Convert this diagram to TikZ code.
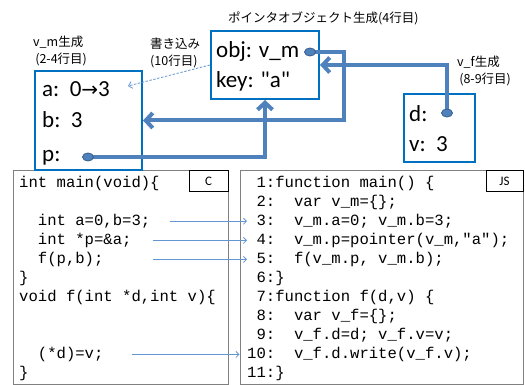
\documentclass[tikz,border=0pt]{standalone}
\usepackage{fontspec}
\setmainfont{Carlito}[Ligatures=TeXOff]
\setmonofont{Liberation Mono}
\newfontfamily\jpfont{Noto Sans CJK JP}
\newfontfamily\symfont{DejaVu Sans}
\usepackage{xcolor}
\usetikzlibrary{arrows.meta,shapes.geometric}

\definecolor{boxblue}{RGB}{0,112,192}
\definecolor{linkblue}{RGB}{79,129,189}
\definecolor{dotedge}{RGB}{56,93,138}
\definecolor{thinblue}{RGB}{100,150,210}
\definecolor{codegray}{RGB}{128,128,128}

\begin{document}
\begin{tikzpicture}[x=1pt, y=-1pt,
    membox/.style={draw=boxblue, line width=2pt, inner sep=0pt},
    memtext/.style={anchor=base west, inner sep=0pt, font=\fontsize{23}{27}\selectfont},
    note/.style={anchor=west, align=left, inner sep=0pt, font=\jpfont\fontsize{12.5}{17}\selectfont},
    link/.style={draw=linkblue, line width=4pt, -{Straight Barb[length=7pt,width=15pt]}},
    dot/.style={ellipse, fill=linkblue, draw=dotedge, line width=0.8pt, minimum width=11pt, minimum height=8pt, inner sep=0pt},
    codebox/.style={draw=codegray, line width=1pt, inner sep=0pt},
    tagbox/.style={draw=black, fill=white, line width=1pt, inner sep=0pt, font=\fontsize{13}{15}\selectfont},
    codeline/.style={anchor=base west, inner sep=0pt, font=\ttfamily\fontsize{15.6}{18}\selectfont},
    codelink/.style={draw=thinblue, line width=0.8pt, -{Straight Barb[length=3pt,width=6pt]}},
    dashlink/.style={draw=thinblue, line width=0.8pt, dash pattern=on 2.5pt off 1.5pt, -{Straight Barb[length=3.5pt,width=7pt]}}]
    \useasboundingbox (0,0) rectangle (525,385);

    % Code panels
    \node[codebox, minimum width=215pt, minimum height=213pt] (cbox) at (120.5,277.5) {};
    \node[codebox, minimum width=283pt, minimum height=213pt] (jsbox) at (381.5,277.5) {};
    \node[tagbox, minimum width=39pt, minimum height=21pt] (ctag) at (208.5,181.5) {C};
    \node[tagbox, minimum width=37pt, minimum height=21pt] (jstag) at (504.5,181.5) {JS};

    % C code
    \foreach \n/\code in {1/{int main(void)\{}, 3/{\ \ int a=0,b=3;}, 4/{\ \ int *p=\&a;},
        5/{\ \ f(p,b);}, 6/{\}}, 7/{void f(int *d,int v)\{}, 10/{\ \ (*d)=v;}, 11/{\}}}
        \node[codeline] (c\n) at (19,168.5+19*\n) {\code};

    % JS code
    \foreach \n/\code in {1/{\phantom{0}1:function main() \{}, 2/{\phantom{0}2:\ \ var v\_m=\{\};},
        3/{\phantom{0}3:\ \ v\_m.a=0; v\_m.b=3;}, 4/{\phantom{0}4:\ \ v\_m.p=pointer(v\_m,"a");},
        5/{\phantom{0}5:\ \ f(v\_m.p, v\_m.b);}, 6/{\phantom{0}6:\}}, 7/{\phantom{0}7:function f(d,v) \{},
        8/{\phantom{0}8:\ \ var v\_f=\{\};}, 9/{\phantom{0}9:\ \ v\_f.d=d; v\_f.v=v;},
        10/{10:\ \ v\_f.d.write(v\_f.v);}, 11/{11:\}}}
        \node[codeline] (js\n) at (247,168.5+19*\n) {\code};

    % C line -> JS line
    \draw[codelink] ([xshift=20pt]c3.east) -- (c3.east -| js3.west);
    \draw[codelink] ([xshift=21pt]c4.east) -- (c4.east -| js4.west);
    \draw[codelink] ([xshift=49pt]c5.east) -- (c5.east -| js5.west);
    \draw[codelink] ([xshift=28pt]c10.east) -- (c10.east -| jsbox.west);

    % v_m object
    \node[membox, minimum width=107pt, minimum height=99pt] (vmbox) at (88.5,120.5) {};
    \node[memtext] (vma) at (42,97) {a:\ \ 0{\symfont\fontsize{20}{24}\selectfont →}3};
    \node[memtext] (vmb) at (42,128) {b:\ \ 3};
    \node[memtext] (vmp) at (42,161) {p:};
    \node[note] (vmnote) at (33,51) {v\_m生成\\\,(2-4行目)};

    % pointer object
    \node[membox, minimum width=108pt, minimum height=68pt] (pbox) at (265,65) {};
    \node[memtext] (pobj) at (216,58) {obj: v\_m};
    \node[memtext] (pkey) at (216,88) {key: "a"};
    \node[note] (pnote) at (228,18) {ポインタオブジェクト生成(4行目)};

    % v_f object
    \node[membox, minimum width=71pt, minimum height=68pt] (vfbox) at (439.5,128) {};
    \node[memtext] (vfd) at (409,122) {d:};
    \node[memtext] (vfv) at (409,152) {v:\ \ 3};
    \node[note] (vfnote) at (457,71) {v\_f生成\\\,(8-9行目)};

    % write note
    \node[note] (wnote) at (150,53) {書き込み\\(10行目)};
    \coordinate (wpos) at (128,86);
    \draw[dashlink] (pbox.west) -- (wpos);

    % References
    \coordinate (pdot) at (88,157);
    \coordinate (objdot) at (310,52);
    \coordinate (ddot) at (447,113);
    \draw[link] (objdot) -| ([xshift=201pt]vmbox.east) -- (vmbox.east);
    \draw[link] (pdot) -| (pbox.south);
    \draw[link] (ddot) |- (pbox.east);
    \node[dot] (pdotmark) at (pdot) {};
    \node[dot] (objdotmark) at (objdot) {};
    \node[dot] (ddotmark) at (ddot) {};

\end{tikzpicture}
\end{document}
